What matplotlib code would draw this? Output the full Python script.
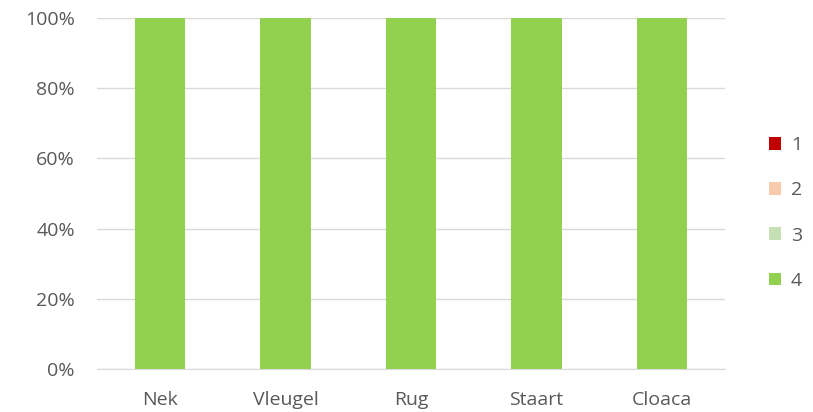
import matplotlib
matplotlib.use("Agg")
import matplotlib.pyplot as plt
from matplotlib.patches import Patch
import numpy as np

categories = ["Nek", "Vleugel", "Rug", "Staart", "Cloaca"]
series_names = ["1", "2", "3", "4"]
s1 = [0, 0, 0, 0, 0]
s2 = [0, 0, 0, 0, 0]
s3 = [0, 0, 0, 0, 0]
s4 = [100, 100, 100, 100, 100]
colors = ["#C00000", "#F8CBAD", "#C5E0B4", "#92D050"]

plt.rcParams['font.family'] = ['Open Sans', 'DejaVu Sans']
fig = plt.figure(figsize=(8.13, 4.12), dpi=100)
ax = fig.add_axes([97/813, 1-369/412, (725-97)/813, (369-18)/412])

x = np.arange(len(categories))
bottom = np.zeros(len(categories))
for vals, c in zip([s1, s2, s3, s4], colors):
    ax.bar(x, vals, bottom=bottom, width=0.4, color=c, zorder=2)
    bottom += np.array(vals)

ax.set_xlim(-0.5, len(categories) - 0.5)
ax.set_ylim(0, 100)
ax.set_yticks([0, 20, 40, 60, 80, 100])
ax.set_yticklabels([f"{v}%" for v in [0, 20, 40, 60, 80, 100]])
ax.set_xticks(x)
ax.set_xticklabels(categories)
ax.yaxis.grid(True, color="#D9D9D9", linewidth=1, zorder=0)
ax.set_axisbelow(True)
for s in ["top", "right", "left"]:
    ax.spines[s].set_visible(False)
ax.spines["bottom"].set_color("#D9D9D9")
ax.tick_params(axis="both", length=0, labelsize=14, colors="#595959")
ax.tick_params(axis="y", pad=16)
ax.tick_params(axis="x", pad=16)

handles = [Patch(facecolor=c, edgecolor="none") for c in colors]
leg = fig.legend(handles, series_names, loc="center left", bbox_to_anchor=(751/813, 1-213/412),
                 frameon=False, fontsize=14, labelcolor="#595959", handlelength=0.65,
                 handleheight=0.65, handletextpad=0.5, labelspacing=1.4)

fig.savefig("out.png", dpi=100)
